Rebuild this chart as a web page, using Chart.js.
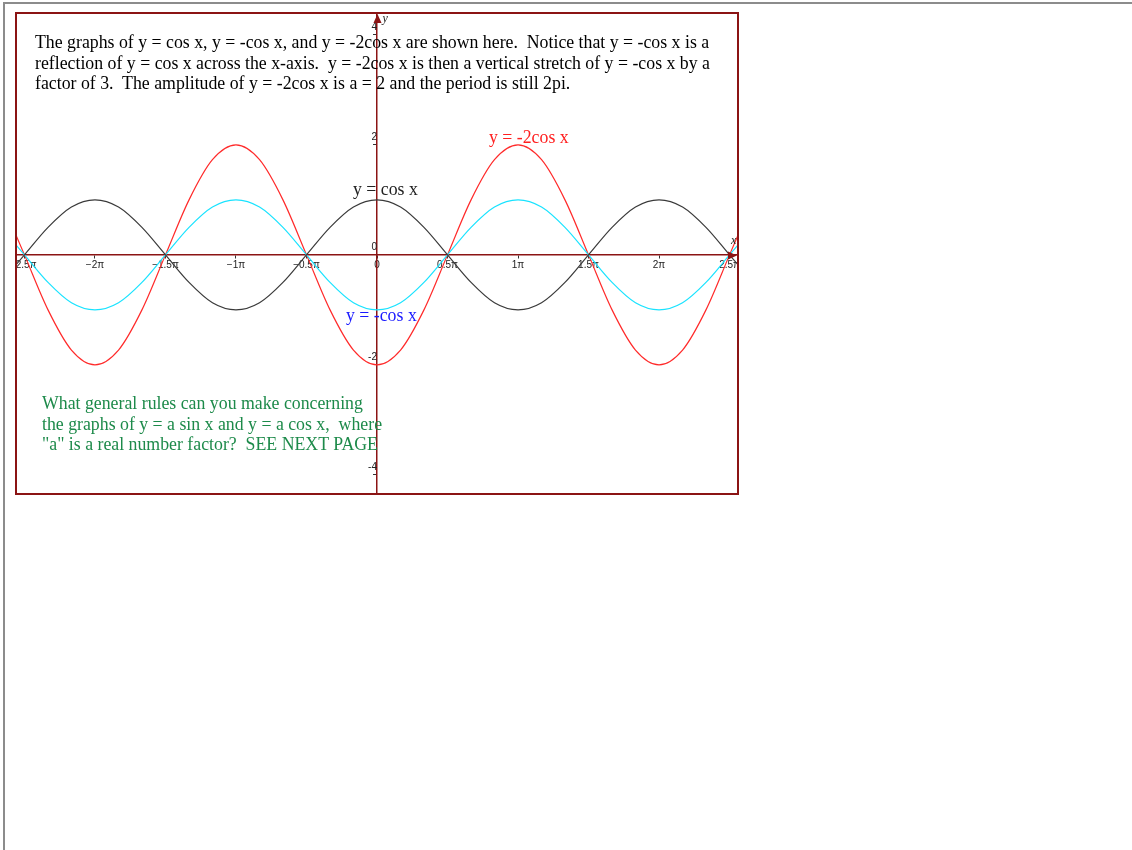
<!DOCTYPE html>
<html>
<head>
<meta charset="utf-8">
<script src="https://cdn.jsdelivr.net/npm/chart.js@4/dist/chart.umd.min.js"></script>
<style>
  body { margin: 0; background: #fff; font-family: "Liberation Serif", "Times New Roman", serif; }
  #page { position: absolute; left: 3px; top: 2px; width: 1129px; height: 848px; border-top: 2px solid #8c8c8c; border-left: 2px solid #8c8c8c; }
  #box { position: absolute; left: 15px; top: 12px; width: 720px; height: 479px; border: 2px solid #8b1414; }
  #box canvas { position: absolute; left: 0; top: 0; }
  .txt { position: absolute; font-size: 17.8px; line-height: 20.5px; white-space: pre; }
</style>
</head>
<body>
<div id="page"></div>
<div id="box"><canvas id="chart" width="720" height="479"></canvas></div>

<div class="txt" style="left:35px; top:32px; color:#000;">The graphs of y = cos x, y = -cos x, and y = -2cos x are shown here.  Notice that y = -cos x is a
reflection of y = cos x across the x-axis.  y = -2cos x is then a vertical stretch of y = -cos x by a
factor of 3.  The amplitude of y = -2cos x is a = 2 and the period is still 2pi.</div>

<div class="txt" style="left:489px; top:127px; color:#ff2020;">y = -2cos x</div>
<div class="txt" style="left:353px; top:179px; color:#222;">y = cos x</div>
<div class="txt" style="left:346px; top:305px; color:#1a1aff;">y = -cos x</div>

<div class="txt" style="left:42px; top:393px; color:#1d8a4a;">What general rules can you make concerning
the graphs of y = a sin x and y = a cos x,  where
"a" is a real number factor?  SEE NEXT PAGE</div>

<script>
// x values in units of pi (step pi/6)
const xPi = [-2.667, -2.5, -2.333, -2.167, -2, -1.833, -1.667, -1.5, -1.333, -1.167, -1,
  -0.833, -0.667, -0.5, -0.333, -0.167, 0, 0.167, 0.333, 0.5, 0.667, 0.833, 1,
  1.167, 1.333, 1.5, 1.667, 1.833, 2, 2.167, 2.333, 2.5, 2.667];

const cosY = [-0.5, 0, 0.5, 0.87, 1, 0.87, 0.5, 0, -0.5, -0.87, -1,
  -0.87, -0.5, 0, 0.5, 0.87, 1, 0.87, 0.5, 0, -0.5, -0.87, -1,
  -0.87, -0.5, 0, 0.5, 0.87, 1, 0.87, 0.5, 0, -0.5];

const negCosY = [0.5, 0, -0.5, -0.87, -1, -0.87, -0.5, 0, 0.5, 0.87, 1,
  0.87, 0.5, 0, -0.5, -0.87, -1, -0.87, -0.5, 0, 0.5, 0.87, 1,
  0.87, 0.5, 0, -0.5, -0.87, -1, -0.87, -0.5, 0, 0.5];

const neg2CosY = [1, 0, -1, -1.73, -2, -1.73, -1, 0, 1, 1.73, 2,
  1.73, 1, 0, -1, -1.73, -2, -1.73, -1, 0, 1, 1.73, 2,
  1.73, 1, 0, -1, -1.73, -2, -1.73, -1, 0, 1];

const xTickLabels = {'-2.5': '-2.5π', '-2': '−2π', '-1.5': '−1.5π', '-1': '−1π', '-0.5': '−0.5π',
  '0': '0', '0.5': '0.5π', '1': '1π', '1.5': '1.5π', '2': '2π', '2.5': '2.5π'};

const axisColor = '#8b1414';

function pts(ys) {
  return xPi.map((x, i) => ({ x: x, y: ys[i] }));
}

// axes sit inside the plot, so drop the label overhang padding
function noPad(scale) {
  scale.paddingTop = 0;
  scale.paddingBottom = 0;
  scale.paddingLeft = 0;
  scale.paddingRight = 0;
}

// arrows and axis letters
const axisExtras = {
  id: 'axisExtras',
  afterDraw(chart) {
    const ctx = chart.ctx;
    const xs = chart.scales.x, ys = chart.scales.y;
    const ox = Math.round(xs.getPixelForValue(0)) + 0.5;
    const oy = Math.round(ys.getPixelForValue(0)) + 0.5;
    const top = chart.chartArea.top, right = chart.chartArea.right;
    ctx.save();
    ctx.fillStyle = axisColor;
    ctx.beginPath();
    ctx.moveTo(ox, top);
    ctx.lineTo(ox - 4, top + 9);
    ctx.lineTo(ox + 4, top + 9);
    ctx.closePath();
    ctx.fill();
    ctx.beginPath();
    ctx.moveTo(right, oy);
    ctx.lineTo(right - 9, oy - 4);
    ctx.lineTo(right - 9, oy + 4);
    ctx.closePath();
    ctx.fill();
    ctx.fillStyle = '#222';
    ctx.font = 'italic 12px "Liberation Serif"';
    ctx.textBaseline = 'middle';
    ctx.textAlign = 'left';
    ctx.fillText('y', ox + 5, top + 5);
    ctx.fillText('x', right - 6, oy - 15);
    ctx.restore();
  }
};

new Chart(document.getElementById('chart'), {
  type: 'line',
  data: {
    datasets: [
      { label: 'y = cos x', data: pts(cosY), borderColor: '#3a3a3a' },
      { label: 'y = -cos x', data: pts(negCosY), borderColor: '#19e3ff' },
      { label: 'y = -2cos x', data: pts(neg2CosY), borderColor: '#ff2a2a' }
    ]
  },
  options: {
    responsive: false,
    animation: false,
    layout: { padding: 0 },
    elements: {
      line: { borderWidth: 1.2, cubicInterpolationMode: 'monotone' },
      point: { radius: 0 }
    },
    plugins: { legend: { display: false }, tooltip: { enabled: false } },
    scales: {
      x: {
        type: 'linear',
        position: { y: 0 },
        min: -2.553,
        max: 2.553,
        afterFit: noPad,
        grid: { drawOnChartArea: false, tickLength: 3, color: '#333' },
        border: { color: axisColor, width: 1.5 },
        ticks: {
          stepSize: 0.5,
          includeBounds: false,
          maxRotation: 0,
          autoSkip: false,
          padding: 1,
          color: '#222',
          font: { family: 'Liberation Sans', size: 10 },
          callback: (v) => xTickLabels[String(v)] || ''
        }
      },
      y: {
        type: 'linear',
        position: { x: 0 },
        min: -4.33,
        max: 4.38,
        afterFit: noPad,
        grid: { drawOnChartArea: false, tickLength: 3, color: '#333' },
        border: { color: axisColor, width: 1.5 },
        ticks: {
          stepSize: 2,
          includeBounds: false,
          labelOffset: -8,
          padding: 1,
          color: '#222',
          font: { family: 'Liberation Sans', size: 10 },
          callback: (v) => String(v)
        }
      }
    }
  },
  plugins: [axisExtras]
});
</script>
</body>
</html>
